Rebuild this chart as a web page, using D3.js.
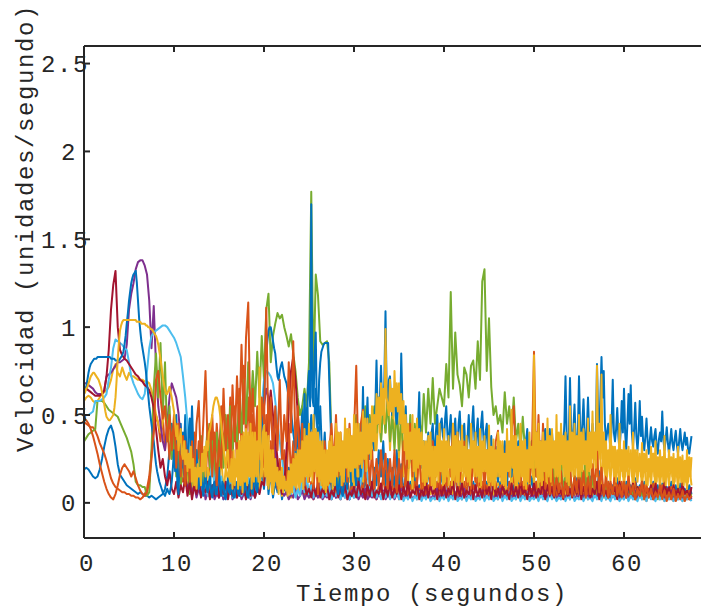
<!DOCTYPE html>
<html>
<head>
<meta charset="utf-8">
<script src="https://cdn.jsdelivr.net/npm/d3@7"></script>
<style>
  html, body { margin: 0; padding: 0; background: #ffffff; }
  svg { display: block; }
  text {
    font-family: "Liberation Mono", "DejaVu Sans Mono", monospace;
    font-size: 24px;
    letter-spacing: 1.6px;
    fill: #262626;
  }
</style>
</head>
<body>
<svg id="chart" width="701" height="613"></svg>
<script>
// Sampling intervals of the velocity records (seconds)
const pasoTiempo = 0.25;
const pasoFino = 0.125;

// Velocity records (units/second), one value per sample, from t = 0 to t = 67.5 s
const velAzul1 = [
  0.19,0.20,0.19,0.17,0.15,0.14,0.15,0.19,0.25,0.32,0.38,0.42,0.44,0.40,0.32,0.22,0.16,0.14,0.12,0.10,0.09,0.08,0.07,0.06,0.05,0.06,0.05,0.04,0.04,0.03,0.04,0.03,0.02,0.03,0.04,0.05,0.08,0.15,0.30,0.45,
  0.30,0.50,0.20,0.45,0.15,0.50,0.10,0.35,0.08,0.25,0.05,0.20,0.04,0.15,0.06,0.12,0.03,0.10,0.05,0.18,0.04,0.12,0.02,0.10,0.05,0.15,0.03,0.12,0.06,0.18,0.04,0.10,0.02,0.12,0.05,0.15,0.03,0.10,0.06,0.20,
  0.08,0.25,0.05,0.18,0.03,0.12,0.06,0.15,0.02,0.10,0.05,0.20,0.08,0.30,0.10,0.45,0.20,0.55,0.25,0.60,0.30,0.50,0.35,0.65,0.30,0.55,0.20,0.40,0.10,0.25,0.05,0.15,0.03,0.12,0.05,0.18,0.04,0.10,0.02,0.15,
  0.05,0.20,0.08,0.25,0.05,0.15,0.03,0.12,0.06,0.20,0.10,0.30,0.15,0.35,0.10,0.25,0.05,0.20,0.08,0.30,0.10,0.22,0.05,0.15,0.03,0.12,0.06,0.18,0.04,0.10,0.02,0.15,0.05,0.20,0.08,0.15,0.04,0.12,0.06,0.18,
  0.05,0.15,0.03,0.10,0.06,0.20,0.04,0.12,0.02,0.10,0.05,0.15,0.03,0.12,0.06,0.18,0.04,0.10,0.02,0.12,0.05,0.15,0.03,0.10,0.06,0.12,0.02,0.08,0.04,0.12,0.03,0.10,0.05,0.15,0.02,0.10,0.04,0.12,0.06,0.15,
  0.04,0.12,0.02,0.15,0.05,0.10,0.03,0.12,0.06,0.18,0.04,0.10,0.02,0.12,0.05,0.15,0.03,0.10,0.06,0.14,0.04,0.12,0.02,0.10,0.05,0.15,0.03,0.12,0.06,0.18,0.04,0.10,0.02,0.12,0.05,0.10,0.03,0.14,0.04,0.10,
  0.02,0.12,0.04,0.10,0.03,0.14,0.05,0.10,0.02,0.12,0.04,0.08,0.03,0.12,0.05,0.10,0.02,0.11,0.04,0.09,0.03,0.12,0.05,0.10,0.02,0.11,0.04,0.08,0.03,0.10,0.05
];

const velNaranja1 = [
  0.46,0.45,0.44,0.43,0.43,0.41,0.38,0.34,0.31,0.28,0.24,0.19,0.14,0.11,0.09,0.08,0.07,0.06,0.06,0.05,0.05,0.04,0.04,0.03,0.03,0.02,0.03,0.05,0.08,0.15,0.28,0.40,0.50,0.45,0.35,0.50,0.30,0.45,0.25,0.40,
  0.25,0.45,0.15,0.40,0.12,0.35,0.08,0.30,0.10,0.40,0.15,0.35,0.12,0.30,0.10,0.38,0.15,0.50,0.20,0.45,0.25,0.55,0.30,0.48,0.20,0.60,0.25,0.55,0.20,0.65,0.30,0.78,0.35,0.60,0.25,0.50,0.20,0.45,0.15,0.40,
  0.20,0.50,0.15,0.35,0.10,0.30,0.08,0.25,0.05,0.30,0.10,0.45,0.15,0.35,0.06,0.25,0.04,0.15,0.03,0.10,0.05,0.12,0.02,0.08,0.04,0.15,0.03,0.10,0.05,0.12,0.02,0.08,0.04,0.10,0.02,0.12,0.05,0.15,0.03,0.10,
  0.05,0.18,0.04,0.12,0.06,0.20,0.03,0.15,0.05,0.12,0.02,0.10,0.06,0.15,0.04,0.12,0.03,0.10,0.05,0.14,0.02,0.12,0.05,0.15,0.03,0.10,0.06,0.12,0.02,0.08,0.04,0.12,0.03,0.10,0.05,0.15,0.02,0.12,0.04,0.10,
  0.05,0.15,0.03,0.12,0.06,0.18,0.04,0.10,0.02,0.12,0.05,0.15,0.03,0.10,0.06,0.14,0.02,0.12,0.04,0.10,0.03,0.15,0.05,0.12,0.02,0.10,0.04,0.14,0.03,0.12,0.05,0.18,0.02,0.10,0.04,0.12,0.03,0.10,0.05,0.08,
  0.04,0.12,0.02,0.10,0.05,0.15,0.03,0.12,0.04,0.10,0.02,0.14,0.05,0.10,0.03,0.12,0.02,0.08,0.04,0.12,0.03,0.10,0.05,0.15,0.02,0.12,0.04,0.10,0.03,0.14,0.05,0.10,0.02,0.12,0.04,0.08,0.03,0.10,0.05,0.12,
  0.03,0.10,0.02,0.08,0.04,0.12,0.02,0.09,0.03,0.10,0.01,0.08,0.04,0.11,0.02,0.07,0.03,0.10,0.01,0.08,0.02,0.09,0.01,0.07,0.03,0.08,0.01,0.06,0.02,0.07,0.03
];

const velAmarillo1 = [
  0.58,0.60,0.61,0.60,0.58,0.57,0.58,0.60,0.62,0.63,0.64,0.66,0.70,0.76,0.79,0.74,0.72,0.77,0.73,0.70,0.74,0.72,0.72,0.71,0.70,0.70,0.70,0.69,0.69,0.68,0.64,0.58,0.50,0.45,0.40,0.46,0.52,0.45,0.38,0.30,
  0.25,0.40,0.20,0.35,0.15,0.30,0.10,0.25,0.08,0.20,0.05,0.18,0.10,0.25,0.06,0.20,0.12,0.30,0.08,0.22,0.10,0.28,0.05,0.20,0.12,0.32,0.08,0.25,0.15,0.35,0.10,0.30,0.12,0.40,0.15,0.35,0.10,0.30,0.08,0.25,
  0.12,0.30,0.08,0.25,0.05,0.20,0.10,0.15,0.04,0.12,0.06,0.18,0.03,0.15,0.08,0.20,0.05,0.25,0.10,0.30,0.12,0.35,0.08,0.28,0.10,0.30,0.05,0.22,0.08,0.25,0.12,0.30,0.06,0.28,0.10,0.32,0.08,0.25,0.12,0.30,
  0.10,0.35,0.15,0.40,0.12,0.38,0.20,0.45,0.25,0.50,0.30,0.55,0.35,0.60,0.40,0.65,0.30,0.55,0.35,0.60,0.25,0.50,0.15,0.40,0.10,0.35,0.08,0.30,0.12,0.28,0.06,0.25,0.10,0.30,0.05,0.22,0.08,0.28,0.12,0.25,
  0.08,0.30,0.10,0.25,0.05,0.28,0.12,0.32,0.06,0.25,0.10,0.30,0.08,0.35,0.12,0.28,0.05,0.30,0.10,0.25,0.08,0.30,0.04,0.22,0.10,0.28,0.06,0.25,0.12,0.30,0.08,0.26,0.05,0.22,0.10,0.28,0.06,0.25,0.08,0.30,
  0.10,0.35,0.08,0.28,0.12,0.30,0.06,0.25,0.10,0.32,0.08,0.28,0.12,0.30,0.05,0.25,0.10,0.35,0.08,0.30,0.12,0.32,0.06,0.28,0.10,0.30,0.08,0.35,0.15,0.40,0.10,0.30,0.08,0.28,0.12,0.32,0.06,0.25,0.10,0.30,
  0.08,0.28,0.10,0.30,0.06,0.25,0.12,0.28,0.08,0.26,0.05,0.24,0.10,0.28,0.06,0.25,0.08,0.26,0.05,0.22,0.10,0.25,0.06,0.24,0.08,0.22,0.05,0.20,0.08,0.22,0.10
];

const velMorado = [
  0.68,0.68,0.67,0.66,0.65,0.63,0.62,0.62,0.62,0.64,0.72,0.73,0.74,0.76,0.78,0.80,0.80,0.81,0.82,0.90,1.10,1.19,1.25,1.33,1.37,1.38,1.38,1.35,1.30,1.15,0.88,1.12,0.78,0.55,0.45,0.35,0.30,0.45,0.60,0.68,
  0.64,0.60,0.51,0.35,0.20,0.12,0.08,0.15,0.05,0.10,0.03,0.08,0.04,0.12,0.02,0.06,0.03,0.08,0.02,0.05,0.03,0.07,0.02,0.05,0.04,0.10,0.02,0.06,0.03,0.08,0.02,0.05,0.04,0.09,0.02,0.06,0.03,0.12,0.25,0.40,
  0.55,0.65,0.60,0.51,0.40,0.30,0.20,0.12,0.08,0.04,0.06,0.02,0.05,0.03,0.08,0.02,0.04,0.07,0.02,0.05,0.03,0.06,0.02,0.05,0.03,0.08,0.02,0.04,0.03,0.06,0.02,0.05,0.03,0.08,0.02,0.06,0.03,0.05,0.02,0.07,
  0.03,0.06,0.02,0.05,0.03,0.08,0.02,0.04,0.03,0.06,0.02,0.05,0.03,0.07,0.02,0.04,0.03,0.06,0.02,0.05,0.03,0.08,0.02,0.05,0.03,0.06,0.02,0.04,0.03,0.07,0.02,0.05,0.03,0.06,0.02,0.04,0.03,0.08,0.02,0.05,
  0.03,0.07,0.02,0.05,0.03,0.06,0.02,0.04,0.03,0.08,0.02,0.05,0.03,0.06,0.02,0.05,0.03,0.07,0.02,0.04,0.03,0.06,0.02,0.05,0.03,0.08,0.02,0.04,0.03,0.06,0.02,0.05,0.03,0.07,0.02,0.04,0.03,0.06,0.02,0.05,
  0.03,0.06,0.02,0.04,0.03,0.08,0.02,0.05,0.03,0.06,0.02,0.04,0.03,0.07,0.02,0.05,0.03,0.06,0.02,0.04,0.03,0.08,0.02,0.05,0.03,0.06,0.02,0.04,0.03,0.07,0.02,0.05,0.03,0.06,0.02,0.04,0.03,0.08,0.02,0.05,
  0.03,0.06,0.02,0.04,0.03,0.07,0.02,0.05,0.03,0.06,0.02,0.04,0.03,0.08,0.02,0.05,0.03,0.06,0.02,0.04,0.03,0.07,0.02,0.05,0.03,0.06,0.02,0.04,0.03,0.05,0.02
];

const velVerde = [
  0.35,0.37,0.39,0.40,0.41,0.42,0.58,0.58,0.58,0.57,0.55,0.53,0.52,0.51,0.50,0.49,0.46,0.43,0.40,0.37,0.33,0.29,0.22,0.12,0.10,0.10,0.09,0.09,0.04,0.06,0.30,0.65,0.85,0.60,0.91,0.50,0.80,0.35,0.55,0.25,
  0.40,0.15,0.30,0.08,0.35,0.10,0.25,0.05,0.20,0.08,0.30,0.10,0.38,0.12,0.25,0.45,0.20,0.35,0.15,0.40,0.18,0.45,0.20,0.50,0.25,0.55,0.30,0.48,0.35,0.60,0.40,0.70,0.45,0.80,0.50,0.75,0.55,0.86,0.60,0.95,
  0.70,1.10,1.19,0.80,0.95,1.02,1.08,1.05,1.07,1.00,0.95,0.89,0.96,0.85,0.75,0.60,0.50,0.55,0.65,0.55,0.80,1.77,0.70,1.30,1.18,0.92,0.90,0.91,0.92,0.80,0.35,0.10,0.25,0.08,0.35,0.12,0.40,0.15,0.30,0.10,
  0.30,0.50,0.20,0.45,0.25,0.55,0.30,0.50,0.35,0.55,0.40,0.60,0.35,0.55,0.40,0.58,0.35,0.50,0.30,0.55,0.30,0.50,0.25,0.45,0.20,0.50,0.25,0.45,0.30,0.50,0.35,0.62,0.40,0.65,0.45,0.71,0.45,0.55,0.65,0.60,
  0.55,0.79,0.60,1.20,0.65,0.97,0.73,0.67,0.55,0.77,0.73,0.60,0.78,0.81,0.65,0.92,0.70,1.26,1.33,0.75,1.05,0.66,0.50,0.55,0.45,0.50,0.40,0.63,0.45,0.55,0.40,0.60,0.35,0.45,0.30,0.49,0.30,0.40,0.25,0.35,
  0.30,0.15,0.35,0.10,0.30,0.12,0.28,0.08,0.25,0.10,0.30,0.08,0.22,0.05,0.20,0.06,0.18,0.04,0.15,0.05,0.20,0.08,0.41,0.10,0.31,0.06,0.15,0.04,0.12,0.05,0.10,0.03,0.12,0.04,0.10,0.05,0.08,0.03,0.10,0.04,
  0.08,0.03,0.10,0.04,0.07,0.02,0.09,0.03,0.06,0.02,0.08,0.03,0.10,0.04,0.07,0.02,0.06,0.03,0.08,0.02,0.07,0.03,0.06,0.02,0.08,0.03,0.05,0.02,0.06,0.03,0.05
];

const velCeleste = [
  0.49,0.50,0.50,0.51,0.52,0.58,0.58,0.58,0.59,0.60,0.62,0.70,0.77,0.88,0.93,0.92,0.91,0.90,0.88,0.87,0.80,0.72,0.68,0.65,0.62,0.60,0.59,0.62,0.75,0.88,0.95,0.97,0.98,0.99,1.00,1.01,1.01,1.00,0.98,0.96,
  0.94,0.91,0.87,0.83,0.72,0.60,0.45,0.30,0.20,0.12,0.18,0.08,0.15,0.05,0.12,0.04,0.10,0.25,0.08,0.20,0.06,0.15,0.04,0.12,0.05,0.18,0.03,0.10,0.06,0.14,0.04,0.12,0.05,0.15,0.03,0.10,0.06,0.20,0.35,0.55,
  0.70,0.75,0.74,0.72,0.68,0.58,0.45,0.35,0.25,0.15,0.08,0.12,0.05,0.10,0.03,0.08,0.04,0.12,0.06,0.15,0.05,0.10,0.03,0.08,0.05,0.12,0.03,0.07,0.04,0.10,0.02,0.06,0.04,0.09,0.02,0.06,0.03,0.08,0.02,0.05,
  0.03,0.08,0.04,0.12,0.18,0.26,0.15,0.08,0.04,0.10,0.03,0.07,0.02,0.06,0.03,0.08,0.02,0.05,0.03,0.07,0.02,0.06,0.01,0.04,0.02,0.05,0.01,0.04,0.02,0.06,0.01,0.04,0.02,0.05,0.01,0.03,0.02,0.05,0.01,0.04,
  0.02,0.05,0.01,0.04,0.02,0.06,0.01,0.03,0.02,0.05,0.01,0.04,0.02,0.06,0.01,0.03,0.02,0.05,0.01,0.04,0.02,0.06,0.01,0.03,0.02,0.05,0.01,0.04,0.02,0.06,0.01,0.03,0.02,0.05,0.01,0.04,0.02,0.06,0.01,0.03,
  0.02,0.04,0.01,0.05,0.02,0.03,0.01,0.06,0.02,0.04,0.01,0.03,0.02,0.05,0.01,0.04,0.02,0.06,0.01,0.03,0.02,0.05,0.01,0.04,0.02,0.03,0.01,0.05,0.02,0.04,0.01,0.06,0.02,0.03,0.01,0.05,0.02,0.04,0.01,0.03,
  0.02,0.05,0.01,0.04,0.02,0.03,0.01,0.05,0.02,0.04,0.01,0.06,0.02,0.03,0.01,0.05,0.02,0.04,0.01,0.03,0.02,0.05,0.01,0.04,0.02,0.03,0.01,0.04,0.02,0.03,0.01
];

const velGranate = [
  0.66,0.65,0.64,0.63,0.62,0.61,0.61,0.61,0.62,0.64,0.72,0.87,1.10,1.24,1.32,1.00,0.87,0.84,0.82,0.81,0.79,0.77,0.75,0.73,0.72,0.70,0.69,0.67,0.66,0.64,0.60,0.54,0.42,0.30,0.20,0.25,0.15,0.10,0.18,0.08,
  0.05,0.12,0.03,0.10,0.06,0.15,0.04,0.12,0.02,0.10,0.05,0.14,0.03,0.08,0.06,0.12,0.02,0.10,0.04,0.15,0.03,0.09,0.05,0.12,0.02,0.10,0.04,0.13,0.03,0.08,0.05,0.12,0.02,0.10,0.04,0.14,0.03,0.09,0.05,0.12,
  0.10,0.30,0.50,0.64,0.50,0.37,0.25,0.12,0.05,0.10,0.30,0.55,0.75,0.83,0.70,0.51,0.35,0.20,0.10,0.05,0.08,0.03,0.10,0.04,0.12,0.03,0.08,0.05,0.10,0.02,0.07,0.04,0.11,0.03,0.08,0.05,0.10,0.02,0.06,0.04,
  0.09,0.03,0.12,0.05,0.08,0.02,0.10,0.04,0.12,0.03,0.07,0.05,0.11,0.02,0.09,0.04,0.12,0.03,0.08,0.05,0.10,0.02,0.09,0.04,0.12,0.03,0.07,0.05,0.11,0.02,0.08,0.04,0.12,0.03,0.10,0.05,0.08,0.02,0.11,0.04,
  0.10,0.03,0.08,0.05,0.12,0.02,0.09,0.04,0.11,0.03,0.07,0.05,0.12,0.02,0.10,0.04,0.08,0.03,0.11,0.05,0.09,0.02,0.12,0.04,0.08,0.03,0.10,0.05,0.07,0.02,0.11,0.04,0.09,0.03,0.12,0.05,0.08,0.02,0.10,0.04,
  0.11,0.03,0.08,0.05,0.12,0.02,0.10,0.04,0.09,0.03,0.11,0.05,0.07,0.02,0.12,0.04,0.08,0.03,0.10,0.05,0.13,0.02,0.09,0.04,0.11,0.03,0.08,0.05,0.12,0.02,0.10,0.04,0.07,0.03,0.11,0.05,0.09,0.02,0.12,0.04,
  0.08,0.03,0.10,0.05,0.11,0.02,0.09,0.04,0.12,0.03,0.07,0.05,0.10,0.02,0.11,0.04,0.08,0.03,0.12,0.05,0.09,0.02,0.10,0.04,0.08,0.03,0.11,0.05,0.07,0.02,0.09
];

// Sampled every pasoFino seconds
const velAzul2 = [
  0.62,0.64,0.66,0.70,0.74,0.77,0.79,0.80,0.81,0.82,0.82,0.82,0.83,0.83,0.83,0.83,0.83,0.83,0.83,0.83,0.83,0.83,0.83,0.83,0.82,0.82,0.82,0.82,0.81,0.81,0.81,0.81,0.82,0.83,0.84,0.86,0.90,0.95,1.02,1.08,
  1.15,1.20,1.25,1.28,1.30,1.31,1.32,1.25,1.15,1.05,0.98,0.92,0.88,0.84,0.80,0.75,0.68,0.62,0.55,0.50,0.45,0.40,0.35,0.28,0.22,0.18,0.15,0.12,0.10,0.08,0.06,0.05,0.04,0.06,0.08,0.06,0.05,0.08,0.12,0.20,
  0.30,0.18,0.35,0.10,0.05,0.25,0.40,0.20,0.40,0.22,0.15,0.30,0.25,0.40,0.48,0.30,0.55,0.35,0.20,0.28,0.30,0.15,0.08,0.15,0.22,0.10,0.04,0.12,0.18,0.08,0.06,0.12,0.15,0.06,0.03,0.10,0.12,0.05,0.05,0.14,
  0.20,0.08,0.04,0.12,0.10,0.04,0.02,0.08,0.14,0.06,0.05,0.10,0.08,0.03,0.03,0.10,0.12,0.05,0.04,0.14,0.16,0.08,0.06,0.12,0.10,0.04,0.03,0.10,0.14,0.06,0.05,0.12,0.18,0.08,0.06,0.15,0.22,0.30,0.35,0.45,
  0.60,0.75,0.85,0.92,0.98,1.00,1.00,0.96,0.92,0.88,0.85,0.78,0.72,0.70,0.75,0.78,0.80,0.76,0.72,0.70,0.68,0.64,0.60,0.56,0.52,0.46,0.40,0.35,0.30,0.22,0.18,0.22,0.25,0.40,0.45,0.30,0.62,0.40,0.35,0.65,
  0.75,0.55,1.70,0.60,0.55,0.85,0.97,0.50,0.45,0.70,0.80,0.86,0.88,0.90,0.91,0.91,0.91,0.91,0.70,0.50,0.30,0.18,0.10,0.15,0.20,0.08,0.05,0.12,0.15,0.06,0.04,0.10,0.25,0.12,0.08,0.20,0.30,0.15,0.10,0.18,
  0.35,0.15,0.10,0.30,0.45,0.25,0.15,0.35,0.66,0.30,0.20,0.45,0.60,0.35,0.25,0.42,0.50,0.35,0.30,0.55,0.81,0.50,0.45,0.60,0.78,0.55,0.50,0.70,1.09,0.65,0.55,0.70,0.72,0.55,0.50,0.62,0.65,0.50,0.45,0.58,
  0.60,0.45,0.85,0.55,0.40,0.50,0.55,0.35,0.30,0.42,0.45,0.25,0.20,0.35,0.40,0.22,0.25,0.45,0.63,0.30,0.20,0.30,0.35,0.20,0.15,0.30,0.40,0.28,0.25,0.40,0.45,0.30,0.30,0.42,0.50,0.35,0.35,0.45,0.48,0.38,
  0.35,0.48,0.55,0.40,0.30,0.42,0.50,0.35,0.25,0.40,0.48,0.32,0.30,0.45,0.52,0.38,0.28,0.40,0.45,0.30,0.22,0.38,0.50,0.35,0.30,0.45,0.55,0.38,0.25,0.40,0.48,0.32,0.30,0.45,0.52,0.38,0.28,0.40,0.45,0.30,
  0.20,0.32,0.38,0.25,0.15,0.28,0.32,0.20,0.12,0.25,0.30,0.22,0.18,0.30,0.35,0.22,0.10,0.22,0.28,0.18,0.15,0.25,0.30,0.20,0.20,0.30,0.35,0.22,0.12,0.25,0.30,0.20,0.18,0.35,0.42,0.28,0.20,0.30,0.35,0.25,
  0.25,0.35,0.40,0.28,0.20,0.30,0.35,0.25,0.25,0.38,0.42,0.30,0.22,0.35,0.42,0.30,0.40,0.30,0.25,0.32,0.35,0.28,0.22,0.30,0.41,0.32,0.30,0.45,0.72,0.40,0.30,0.38,0.71,0.40,0.32,0.42,0.56,0.38,0.30,0.40,
  0.72,0.42,0.35,0.45,0.59,0.40,0.30,0.42,0.60,0.40,0.35,0.38,0.45,0.35,0.30,0.40,0.79,0.50,0.40,0.60,0.83,0.60,0.75,0.45,0.35,0.40,0.45,0.38,0.30,0.45,0.70,0.40,0.35,0.42,0.54,0.38,0.30,0.40,0.58,0.40,
  0.65,0.40,0.30,0.45,0.62,0.45,0.67,0.40,0.32,0.42,0.57,0.38,0.30,0.40,0.58,0.38,0.49,0.35,0.30,0.38,0.48,0.35,0.28,0.36,0.43,0.35,0.32,0.38,0.42,0.32,0.28,0.36,0.40,0.35,0.52,0.36,0.30,0.36,0.43,0.34,
  0.28,0.35,0.42,0.34,0.30,0.36,0.41,0.33,0.28,0.35,0.42,0.34,0.30,0.35,0.40,0.33,0.37,0.30,0.28,0.33,0.38
];

const velNaranja2 = [
  0.48,0.47,0.45,0.42,0.38,0.33,0.28,0.22,0.17,0.12,0.08,0.05,0.03,0.02,0.05,0.10,0.16,0.20,0.22,0.20,0.18,0.15,0.18,0.14,0.10,0.07,0.05,0.04,0.06,0.12,0.25,0.42,0.70,0.75,0.60,0.48,0.55,0.35,0.50,0.30,
  0.50,0.20,0.45,0.15,0.38,0.10,0.30,0.12,0.35,0.15,0.45,0.58,0.20,0.45,0.75,0.30,0.45,0.15,0.40,0.10,0.35,0.20,0.65,0.30,0.50,0.20,0.67,0.35,0.72,0.40,0.90,0.45,0.94,1.14,0.40,0.65,0.30,0.55,0.25,0.60,
  0.45,1.11,0.35,0.60,0.25,0.55,0.30,0.70,0.25,0.50,0.35,0.80,0.40,0.92,0.30,0.55,0.15,0.45,0.10,0.35,0.12,0.40,0.08,0.30,0.05,0.25,0.10,0.35,0.08,0.30,0.45,0.20,0.50,0.15,0.40,0.10,0.35,0.12,0.45,0.20,
  0.40,0.78,0.20,0.45,0.53,0.15,0.35,0.10,0.30,0.08,0.25,0.10,0.30,0.12,0.28,0.08,0.25,0.10,0.30,0.06,0.25,0.10,0.35,0.12,0.30,0.45,0.15,0.35,0.10,0.30,0.08,0.25,0.12,0.30,0.10,0.35,0.15,0.28,0.08,0.30,
  0.30,0.10,0.35,0.15,0.45,0.20,0.40,0.12,0.30,0.35,0.10,0.28,0.08,0.25,0.12,0.30,0.10,0.25,0.08,0.30,0.12,0.28,0.10,0.35,0.41,0.15,0.30,0.10,0.35,0.15,0.40,0.55,0.20,0.30,0.10,0.25,0.08,0.30,0.12,0.25,
  0.86,0.15,0.50,0.10,0.45,0.08,0.25,0.05,0.20,0.04,0.15,0.06,0.18,0.03,0.12,0.05,0.20,0.04,0.15,0.06,0.25,0.05,0.18,0.03,0.15,0.05,0.22,0.08,0.30,0.06,0.20,0.04,0.15,0.03,0.12,0.05,0.18,0.04,0.10,0.03,
  0.12,0.03,0.15,0.05,0.10,0.02,0.08,0.04,0.12,0.02,0.10,0.03,0.08,0.02,0.06,0.03,0.10,0.02,0.07,0.01,0.06,0.02,0.08,0.01,0.05,0.02,0.07,0.01,0.05,0.02,0.04
];

// Sampled every pasoFino seconds
const velAmarillo2 = [
  0.62,0.63,0.65,0.66,0.68,0.70,0.72,0.73,0.74,0.74,0.73,0.72,0.71,0.70,0.68,0.66,0.63,0.60,0.56,0.52,0.49,0.48,0.47,0.47,0.48,0.49,0.50,0.54,0.60,0.70,0.82,0.91,0.98,1.01,1.03,1.04,1.04,1.04,1.04,1.04,
  1.04,1.04,1.04,1.04,1.04,1.04,1.04,1.03,1.03,1.03,1.03,1.02,1.02,1.02,1.02,1.01,1.01,1.00,1.00,0.99,0.99,0.98,0.97,0.96,0.95,0.93,0.90,0.86,0.82,0.77,0.72,0.68,0.64,0.62,0.62,0.64,0.66,0.63,0.60,0.56,
  0.52,0.45,0.38,0.44,0.30,0.36,0.42,0.28,0.25,0.35,0.22,0.30,0.18,0.28,0.20,0.32,0.12,0.25,0.10,0.20,0.08,0.22,0.15,0.20,0.10,0.28,0.18,0.32,0.15,0.35,0.30,0.40,0.42,0.46,0.50,0.55,0.58,0.60,0.60,0.58,
  0.55,0.50,0.45,0.38,0.32,0.25,0.20,0.28,0.30,0.15,0.12,0.25,0.08,0.30,0.10,0.22,0.30,0.08,0.35,0.10,0.38,0.06,0.40,0.12,0.42,0.10,0.38,0.15,0.45,0.08,0.40,0.12,0.40,0.15,0.35,0.12,0.77,0.30,0.15,0.40,
  0.44,0.15,0.40,0.10,0.38,0.12,0.30,0.06,0.30,0.10,0.25,0.12,0.20,0.05,0.18,0.08,0.20,0.06,0.15,0.08,0.12,0.04,0.18,0.05,0.22,0.06,0.25,0.10,0.28,0.08,0.30,0.10,0.30,0.12,0.35,0.08,0.42,0.15,0.38,0.12,
  0.45,0.15,0.40,0.12,0.50,0.18,0.42,0.15,0.40,0.12,0.35,0.10,0.35,0.08,0.30,0.06,0.30,0.10,0.35,0.12,0.38,0.08,0.32,0.10,0.45,0.15,0.40,0.18,0.40,0.10,0.35,0.12,0.48,0.20,0.42,0.15,0.42,0.18,0.38,0.12,
  0.50,0.20,0.45,0.15,0.45,0.22,0.40,0.20,0.52,0.25,0.48,0.18,0.48,0.28,0.45,0.25,0.55,0.35,0.50,0.30,0.62,0.45,0.60,0.40,0.68,0.50,0.65,0.45,0.99,0.60,0.55,0.50,0.70,0.52,0.65,0.48,0.75,0.55,0.68,0.52,
  0.68,0.45,0.62,0.40,0.58,0.30,0.50,0.25,0.45,0.20,0.40,0.25,0.50,0.18,0.42,0.15,0.48,0.20,0.42,0.22,0.40,0.12,0.35,0.10,0.35,0.12,0.38,0.15,0.40,0.10,0.32,0.08,0.32,0.15,0.38,0.12,0.45,0.18,0.35,0.10,
  0.42,0.12,0.35,0.15,0.38,0.20,0.32,0.10,0.45,0.15,0.38,0.12,0.40,0.10,0.35,0.18,0.44,0.18,0.32,0.15,0.38,0.12,0.30,0.10,0.45,0.20,0.35,0.15,0.40,0.15,0.32,0.12,0.42,0.10,0.35,0.18,0.38,0.18,0.30,0.12,
  0.44,0.12,0.32,0.10,0.36,0.08,0.30,0.15,0.40,0.15,0.35,0.12,0.35,0.10,0.28,0.08,0.42,0.18,0.35,0.15,0.53,0.20,0.38,0.15,0.38,0.10,0.32,0.12,0.45,0.15,0.35,0.10,0.36,0.08,0.30,0.12,0.40,0.20,0.32,0.15,
  0.84,0.20,0.40,0.15,0.45,0.12,0.35,0.10,0.40,0.18,0.35,0.12,0.48,0.15,0.38,0.12,0.42,0.20,0.35,0.15,0.50,0.15,0.40,0.12,0.45,0.22,0.38,0.15,0.40,0.12,0.35,0.10,0.55,0.18,0.40,0.15,0.45,0.20,0.38,0.15,
  0.50,0.15,0.40,0.18,0.42,0.22,0.35,0.15,0.48,0.18,0.40,0.20,0.52,0.25,0.40,0.20,0.78,0.30,0.45,0.25,0.73,0.22,0.40,0.18,0.35,0.15,0.30,0.20,0.50,0.20,0.32,0.15,0.32,0.12,0.30,0.18,0.45,0.18,0.30,0.15,
  0.35,0.15,0.30,0.18,0.32,0.20,0.28,0.15,0.40,0.12,0.30,0.18,0.30,0.18,0.26,0.15,0.34,0.15,0.28,0.18,0.30,0.10,0.25,0.15,0.32,0.18,0.28,0.15,0.35,0.12,0.26,0.15,0.30,0.15,0.26,0.12,0.38,0.10,0.25,0.15,
  0.30,0.18,0.26,0.15,0.28,0.12,0.25,0.15,0.32,0.15,0.26,0.12,0.27,0.10,0.24,0.12,0.30,0.12,0.26,0.15,0.26
];

// Axis ticks and labels
const ticksX = [0, 10, 20, 30, 40, 50, 60];
const ticksY = [0, 0.5, 1, 1.5, 2, 2.5];
const etiquetaX = "Tiempo (segundos)";
const etiquetaY = "Velocidad (unidades/segundo)";

// Records in plotting order (later ones are drawn on top)
const series = [
  { valores: velAzul1,     paso: pasoTiempo, color: "#0072BD" },
  { valores: velNaranja1,  paso: pasoTiempo, color: "#D95319" },
  { valores: velAmarillo1, paso: pasoTiempo, color: "#EDB120" },
  { valores: velMorado,    paso: pasoTiempo, color: "#7E2F8E" },
  { valores: velVerde,     paso: pasoTiempo, color: "#77AC30" },
  { valores: velCeleste,   paso: pasoTiempo, color: "#4DBEEE" },
  { valores: velGranate,   paso: pasoTiempo, color: "#A2142F" },
  { valores: velAzul2,     paso: pasoFino,   color: "#0072BD" },
  { valores: velNaranja2,  paso: pasoTiempo, color: "#D95319" },
  { valores: velAmarillo2, paso: pasoFino,   color: "#EDB120" }
];

const svg = d3.select("#chart");
const colorEje = "#262626";

// Plot box: the right side extends past the visible window
const izq = 84, arriba = 46, abajo = 538, pxPorSegundo = 9;
const x = d3.scaleLinear().domain([0, 70.5]).range([izq, izq + pxPorSegundo * 70.5]);
const y = d3.scaleLinear().domain([-0.2, 2.6]).range([abajo, arriba]);

svg.append("defs").append("clipPath").attr("id", "zona")
  .append("rect")
  .attr("x", x(0)).attr("y", y(2.6))
  .attr("width", x(70.5) - x(0)).attr("height", y(-0.2) - y(2.6));

svg.append("g").attr("clip-path", "url(#zona)")
  .selectAll("path")
  .data(series)
  .join("path")
  .attr("d", s => d3.line().x((d, i) => x(i * s.paso)).y(d => y(d))(s.valores))
  .attr("fill", "none")
  .attr("stroke", s => s.color)
  .attr("stroke-width", 2)
  .attr("stroke-linejoin", "round");

function estiloEje(g) {
  g.attr("font-size", null).attr("font-family", null);
  g.select(".domain").attr("stroke", colorEje).attr("stroke-width", 2);
  g.selectAll(".tick line").attr("stroke", colorEje).attr("stroke-width", 2);
}

// Bottom axis with labels
const ejeX = svg.append("g")
  .attr("transform", `translate(0,${y(-0.2)})`)
  .call(d3.axisBottom(x).tickValues(ticksX).tickSizeInner(-6).tickSizeOuter(0).offset(0).tickFormat(d3.format("d")))
  .call(estiloEje);
ejeX.selectAll(".tick text")
  .attr("y", 33).attr("dy", null).attr("dx", 3)
  .attr("fill", colorEje);

// Top box edge
svg.append("g")
  .attr("transform", `translate(0,${y(2.6)})`)
  .call(d3.axisTop(x).tickValues(ticksX).tickSizeInner(-6).tickSizeOuter(0).offset(0).tickFormat(""))
  .call(estiloEje);

// Left axis with labels
const ejeY = svg.append("g")
  .attr("transform", `translate(${x(0)},0)`)
  .call(d3.axisLeft(y).tickValues(ticksY).tickSizeInner(-6).tickSizeOuter(0).offset(0).tickFormat(d => String(d)))
  .call(estiloEje);
ejeY.selectAll(".tick text")
  .attr("text-anchor", "start")
  .attr("x", d => (71 - 10 * String(d).length) - x(0))
  .attr("y", 8.5).attr("dy", null)
  .attr("fill", colorEje);

// Axis titles
svg.append("text")
  .attr("x", 296).attr("y", 601)
  .text(etiquetaX);

svg.append("text")
  .attr("transform", "translate(33,452) rotate(-90)")
  .text(etiquetaY);
</script>
</body>
</html>
